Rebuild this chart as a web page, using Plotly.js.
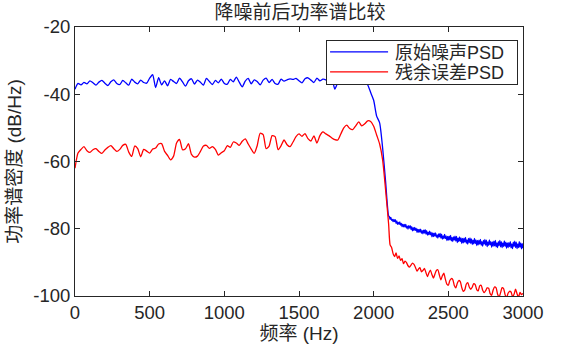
<!DOCTYPE html>
<html>
<head>
<meta charset="utf-8">
<script src="https://cdn.plot.ly/plotly-3.0.1.min.js"></script>
<style>html,body{margin:0;padding:0;background:#fff;}#chart{width:579px;height:349px;}</style>
</head>
<body>
<div id="chart"></div>
<script>
// Frequencies (Hz)
const freqLow = [0,20,40,60,80,100,120,140,160,180,200,220,240,260,280,300,320,340,360,380,400,420,440,460,480,500,520,540,560,580,600,620,640,660,680,700,720,740,760,780,800,820,840,860,880,900,920,940,960,980,1000,1020,1040,1060,1080,1100,1120,1140,1160,1180,1200,1220,1240,1260,1280,1300,1320,1340,1360,1380,1400,1420,1440,1460,1480,1500,1520,1540,1560,1580,1600,1620,1640,1660,1680,1700,1720,1740,1760,1780,1800,1820,1840,1860,1880,1900,1920,1940,1960,1980,2000,2020,2040,2060,2080,2100];
const freqHighFine = [2105,2110,2115,2120,2125,2130,2135,2140,2145,2150,2155,2160,2165,2170,2175,2180,2185,2190,2195,2200,
2205,2210,2215,2220,2225,2230,2235,2240,2245,2250,2255,2260,2265,2270,2275,2280,2285,2290,2295,2300,
2305,2310,2315,2320,2325,2330,2335,2340,2345,2350,2355,2360,2365,2370,2375,2380,2385,2390,2395,2400,
2405,2410,2415,2420,2425,2430,2435,2440,2445,2450,2455,2460,2465,2470,2475,2480,2485,2490,2495,2500,
2505,2510,2515,2520,2525,2530,2535,2540,2545,2550,2555,2560,2565,2570,2575,2580,2585,2590,2595,2600,
2605,2610,2615,2620,2625,2630,2635,2640,2645,2650,2655,2660,2665,2670,2675,2680,2685,2690,2695,2700,
2705,2710,2715,2720,2725,2730,2735,2740,2745,2750,2755,2760,2765,2770,2775,2780,2785,2790,2795,2800,
2805,2810,2815,2820,2825,2830,2835,2840,2845,2850,2855,2860,2865,2870,2875,2880,2885,2890,2895,2900,
2905,2910,2915,2920,2925,2930,2935,2940,2945,2950,2955,2960,2965,2970,2975,2980,2985,2990,2995,3000];
const freqHigh = [2110,2120,2130,2140,2150,2160,2170,2180,2190,2200,2210,2220,2230,2240,2250,2260,2270,2280,2290,2300,2310,2320,2330,2340,2350,2360,2370,2380,2390,2400,2410,2420,2430,2440,2450,2460,2470,2480,2490,2500,2510,2520,2530,2540,2550,2560,2570,2580,2590,2600,2610,2620,2630,2640,2650,2660,2670,2680,2690,2700,2710,2720,2730,2740,2750,2760,2770,2780,2790,2800,2810,2820,2830,2840,2850,2860,2870,2880,2890,2900,2910,2920,2930,2940,2950,2960,2970,2980,2990,3000];

// 原始噪声PSD (dB/Hz)
const noiseLow = [-38.5,-36.8,-37.2,-36.5,-36.9,-36.0,-36.6,-37.3,-36.4,-35.9,
-36.7,-37.4,-36.3,-35.7,-36.8,-37.1,-35.9,-36.6,-37.3,-35.5,
-36.4,-36.9,-35.8,-36.5,-36.7,-35.2,-34.2,-38.0,-35.1,-37.2,
-36.0,-37.5,-35.6,-36.2,-36.8,-35.2,-36.3,-37.6,-36.0,-35.4,
-37.0,-35.8,-36.4,-37.3,-35.3,-36.2,-37.1,-35.9,-36.6,-35.5,
-36.8,-37.0,-35.6,-36.3,-34.9,-36.4,-37.8,-36.1,-35.3,-36.9,
-35.7,-36.2,-37.2,-35.8,-35.2,-36.5,-35.6,-36.8,-37.0,-35.5,
-36.1,-35.7,-35.4,-35.6,-35.3,-36.0,-36.6,-35.4,-35.1,-35.8,
-36.5,-35.2,-36.0,-35.5,-35.7,-36.3,-35.4,-38.5,-36.5,-35.6,
-36.2,-35.8,-36.4,-35.7,-36.0,-36.3,-35.9,-36.5,-37.2,
-39.5,-41.8,-46.5,-48.5,-56.0,-66.0,-76.2];
const noiseHigh = [-76.4,-77.2,-76.6,-77.5,-77.2,-77.9,-77.2,-77.9,-77.3,-78.4,
-77.7,-78.7,-78.1,-78.7,-78.0,-78.9,-78.4,-79.4,-78.6,-79.4,
-78.7,-79.5,-78.7,-79.8,-79.2,-80.1,-79.1,-79.8,-79.1,-80.2,
-79.4,-80.6,-79.7,-80.5,-79.6,-80.5,-79.9,-81.1,-80.1,-81.0,
-80.2,-81.0,-80.1,-81.3,-80.6,-81.5,-80.4,-81.3,-80.3,-81.6,
-80.6,-81.9,-81.0,-81.8,-80.7,-81.8,-81.1,-82.4,-81.2,-82.3,
-81.3,-82.2,-81.2,-82.5,-81.8,-82.8,-81.5,-82.4,-81.4,-82.8,
-81.6,-83.1,-82.1,-82.9,-81.7,-82.9,-82.1,-83.5,-82.3,-83.4,
-82.2,-83.3,-82.0,-83.6,-82.6,-83.8,-82.4,-83.4,-82.2,-83.7,
-82.3,-84.1,-82.8,-83.8,-82.4,-83.8,-82.7,-84.4,-82.9,-84.2,
-82.8,-84.0,-82.6,-84.3,-83.3,-84.6,-82.9,-84.1,-82.7,-84.4,
-83.0,-84.7,-83.4,-84.5,-82.9,-84.4,-83.3,-85.0,-83.5,-84.8,
-83.4,-84.6,-83.2,-84.9,-83.8,-85.2,-83.5,-84.6,-83.2,-84.9,
-83.4,-85.3,-83.9,-84.9,-83.3,-84.8,-83.8,-85.5,-83.9,-85.2,
-83.7,-85.1,-83.5,-85.4,-84.2,-85.6,-83.8,-85.0,-83.5,-85.4,
-83.8,-85.6,-84.2,-85.3,-83.6,-85.2,-84.0,-85.8,-84.2,-85.6,
-84.1,-85.3,-83.8,-85.7,-84.5,-85.9,-84.0,-85.2,-83.7,-85.6,
-84.0,-85.9,-84.5,-85.6,-83.8,-85.5,-84.2,-86.0,-84.4,-85.8];

// 残余误差PSD (dB/Hz)
const residLow = [-62.0,-57.5,-56.4,-55.6,-56.8,-57.3,-56.5,-56.2,-57.0,-57.6,
-56.6,-55.8,-55.3,-56.2,-57.0,-56.4,-55.2,-54.9,-57.2,-58.5,
-55.4,-56.2,-58.6,-56.4,-56.9,-57.5,-56.3,-56.0,-54.8,-54.7,
-57.0,-58.2,-59.5,-58.4,-54.5,-53.4,-56.5,-56.2,-54.7,-57.9,
-58.7,-58.4,-57.0,-55.4,-55.2,-56.1,-55.6,-56.4,-58.1,-57.4,
-56.8,-55.3,-55.8,-54.2,-54.5,-55.2,-54.0,-53.3,-54.8,-56.3,
-57.6,-55.3,-51.6,-52.0,-56.2,-55.4,-52.3,-52.6,-56.5,-55.3,
-53.6,-55.0,-55.6,-54.2,-52.6,-51.8,-52.5,-51.7,-53.2,-53.9,
-52.4,-54.5,-52.3,-51.2,-51.8,-52.3,-53.0,-53.5,-53.6,-51.8,
-50.0,-49.2,-50.2,-50.5,-49.4,-48.2,-49.4,-48.8,-47.9,
-48.1,-49.5,-52.1,-54.8,-59.5,-68.5,-78.5];
const residHigh = [-84.8,-85.6,-87.4,-88.3,-87.2,-88.8,-88.1,-89.4,-88.9,-90.4,
-89.6,-90.1,-91.0,-91.4,-90.8,-90.2,-90.6,-91.5,-92.6,-92.0,
-91.6,-92.8,-92.4,-91.8,-93.0,-94.2,-93.1,-92.3,-93.6,-94.7,
-93.5,-92.4,-92.2,-93.8,-95.2,-94.0,-93.2,-95.0,-96.5,-96.8,
-95.4,-94.8,-95.1,-96.9,-97.6,-96.2,-95.4,-95.7,-97.5,-98.6,
-98.2,-96.5,-96.0,-97.3,-98.0,-97.4,-96.3,-96.6,-98.1,-98.5,
-97.0,-96.8,-98.3,-99.0,-98.4,-97.6,-97.7,-99.3,-99.8,-98.2,
-97.3,-97.6,-99.5,-100.3,-99.0,-97.5,-97.8,-99.6,-100.5,-99.2,
-98.6,-98.8,-100.2,-99.5,-98.0,-99.3,-100.4,-98.9,-99.6,-99.2];

const seriesNames = ['原始噪声PSD', '残余误差PSD'];
const xTicks = [0,500,1000,1500,2000,2500,3000];
const yTicks = [-100,-80,-60,-40,-20];

const font = 'Liberation Sans, Arial, Noto Sans CJK SC, sans-serif';
const textColor = '#262626';

const traces = [
  {x: freqLow.concat(freqHighFine), y: noiseLow.concat(noiseHigh), name: seriesNames[0],
   type: 'scatter', mode: 'lines', line: {color: '#0000ff', width: 1.3, shape: 'spline', smoothing: 0.6}},
  {x: freqLow.concat(freqHigh), y: residLow.concat(residHigh), name: seriesNames[1],
   type: 'scatter', mode: 'lines', line: {color: '#ff0000', width: 1.3, shape: 'spline', smoothing: 0.6}}
];

const axisCommon = {
  showline: true, mirror: 'allticks', linecolor: textColor, linewidth: 1,
  ticks: 'inside', ticklen: 5, tickcolor: textColor, tickwidth: 1,
  showgrid: false, zeroline: false,
  tickfont: {family: font, size: 18.5, color: textColor}
};

const layout = {
  width: 579, height: 349,
  margin: {l: 75, r: 56, t: 27, b: 53},
  paper_bgcolor: '#ffffff', plot_bgcolor: '#ffffff',
  title: {text: '降噪前后功率谱比较', x: 0.518, xanchor: 'center', y: 0.965, yanchor: 'middle',
          font: {family: font, size: 19, color: textColor}},
  xaxis: Object.assign({}, axisCommon, {
    range: [0, 3000], tickvals: xTicks, ticktext: xTicks.map(String),
    title: {text: '频率 (Hz)', standoff: 4, font: {family: font, size: 19, color: textColor}}
  }),
  yaxis: Object.assign({}, axisCommon, {
    range: [-100, -20], tickvals: yTicks, ticktext: yTicks.map(String),
    title: {text: '功率谱密度 (dB/Hz)', standoff: 6, font: {family: font, size: 19, color: textColor}}
  }),
  showlegend: true,
  legend: {x: 0.989, y: 0.952, xanchor: 'right', yanchor: 'top',
           bgcolor: '#ffffff', bordercolor: '#262626', borderwidth: 1,
           font: {family: font, size: 18, color: textColor},
           tracegroupgap: 0, itemwidth: 58}
};

Plotly.newPlot('chart', traces, layout, {displayModeBar: false, staticPlot: true}).then(function (gd) {
  // MATLAB-style compact legend: long line samples, tight row spacing, fixed box
  gd.querySelectorAll('.legend .legendlines path').forEach(function (p) {
    p.setAttribute('d', 'M3,0h58');
  });
  const rows = gd.querySelectorAll('.legend .traces');
  const rowY = [12, 32];
  rows.forEach(function (g, i) {
    const m = /translate\(([^,]+),/.exec(g.getAttribute('transform') || '');
    const tx = m ? m[1] : '1';
    g.setAttribute('transform', 'translate(' + tx + ',' + rowY[i] + ')');
  });
  const bg = gd.querySelector('.legend rect.bg');
  const leg = gd.querySelector('g.legend');
  if (bg && leg) {
    const w = parseFloat(bg.getAttribute('width'));
    const targetW = 191;
    bg.setAttribute('height', 44);
    bg.setAttribute('width', targetW);
    const m = /translate\(([^,]+),([^)]+)\)/.exec(leg.getAttribute('transform') || '');
    if (m) {
      leg.setAttribute('transform', 'translate(' + (parseFloat(m[1]) - (targetW - w)) + ',' + m[2] + ')');
    }
  }
});
</script>
</body>
</html>
